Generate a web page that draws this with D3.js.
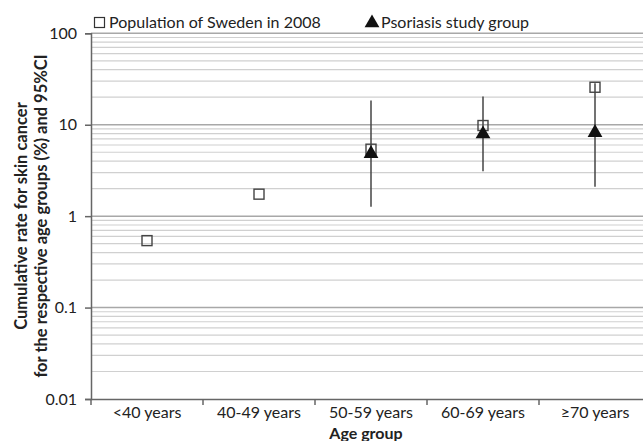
<!doctype html>
<html lang="en">
<head>
<meta charset="utf-8">
<style>
body{margin:0;background:#fff;}
text{font-family:Lato,"Open Sans",sans-serif;fill:#222;}
</style>
</head>
<body>
<div id="grafico"></div>
<script src="https://d3js.org/d3.v7.min.js"></script>
<script>

var grupos = ["<40 years","40-49 years","50-59 years","60-69 years","\u226570 years"];
var poblacion = [0.54, 1.74, 5.4, 9.8, 25.7];
var psoriasis = [null, null, 4.95, 8.1, 8.4];
var ciBajo = [null, null, 1.27, 3.1, 2.1];
var ciAlto = [null, null, 18.4, 20.3, 28.5];
var ticksY = [0.01, 0.1, 1, 10, 100];

var w = 643, h = 441;
var izq = 91, arriba = 33.3, abajo = 399;
var ancho = 112 * grupos.length;

var svg = d3.select("#grafico").append("svg").attr("width",w).attr("height",h);

var x = d3.scaleBand().domain(grupos).range([izq, izq+ancho]);
var y = d3.scaleLog().domain([0.01,100]).range([abajo, arriba]);

// lineas de grilla (menores y mayores)
var menores = [];
ticksY.slice(0,-1).forEach(function(d){
	for (var k=2;k<10;k++) menores.push(d*k);
});
svg.append("g").selectAll("line").data(menores).enter().append("line")
	.attr("x1",izq).attr("x2",w).attr("y1",function(d){return y(d)}).attr("y2",function(d){return y(d)})
	.attr("stroke","#d0d0d0").attr("stroke-width",1.2);
svg.append("g").selectAll("line").data(ticksY.slice(1)).enter().append("line")
	.attr("x1",izq).attr("x2",w).attr("y1",function(d){return y(d)}).attr("y2",function(d){return y(d)})
	.attr("stroke","#a8a8a8").attr("stroke-width",1.5);

// eje y
var ejeY = svg.append("g").attr("transform","translate("+izq+",0)")
	.call(d3.axisLeft(y).tickValues(ticksY).tickFormat(function(d){return String(d)}).tickSize(6).tickPadding(8));
ejeY.select(".domain").attr("stroke","#666").attr("stroke-width",1.5);
ejeY.selectAll(".tick line").attr("stroke","#666").attr("stroke-width",1.5);
ejeY.selectAll("text").style("font-size","16px").attr("fill","#222");

// eje x
var ejeX = svg.append("g").attr("transform","translate(0,"+abajo+")")
	.call(d3.axisBottom(x).tickSize(0).tickPadding(8));
ejeX.select(".domain").attr("stroke","#666").attr("stroke-width",1.5);
ejeX.selectAll("text").style("font-size","16px").attr("fill","#222");
svg.append("g").selectAll("line").data(grupos).enter().append("line")
	.attr("x1",function(d){return x(d)}).attr("x2",function(d){return x(d)})
	.attr("y1",abajo).attr("y2",abajo+6).attr("stroke","#666").attr("stroke-width",1.5);

// barras de error
var idx = d3.range(grupos.length).filter(function(i){return ciBajo[i]!=null});
svg.append("g").selectAll("line").data(idx).enter().append("line")
	.attr("x1",function(i){return x(grupos[i])+x.bandwidth()/2})
	.attr("x2",function(i){return x(grupos[i])+x.bandwidth()/2})
	.attr("y1",function(i){return y(ciAlto[i])}).attr("y2",function(i){return y(ciBajo[i])})
	.attr("stroke","#444").attr("stroke-width",1.5);

// cuadrados (poblacion)
svg.append("g").selectAll("rect").data(poblacion).enter().append("rect")
	.attr("x",function(d,i){return x(grupos[i])+x.bandwidth()/2-5})
	.attr("y",function(d){return y(d)-5})
	.attr("width",10).attr("height",10)
	.attr("fill","none").attr("stroke","#444").attr("stroke-width",1.4);

// triangulos (psoriasis)
var tri = d3.symbol().type(d3.symbolTriangle).size(95);
svg.append("g").selectAll("path").data(idx).enter().append("path")
	.attr("d",tri)
	.attr("transform",function(i){return "translate("+(x(grupos[i])+x.bandwidth()/2)+","+(y(psoriasis[i])+1)+")"})
	.attr("fill","#111");

// leyenda
svg.append("rect").attr("x",94.5).attr("y",17.5).attr("width",10).attr("height",10)
	.attr("fill","none").attr("stroke","#333").attr("stroke-width",1.2);
svg.append("text").attr("x",109).attr("y",28).style("font-size","16px").text("Population of Sweden in 2008");
svg.append("path").attr("d",tri).attr("transform","translate(372,23)").attr("fill","#111");
svg.append("text").attr("x",381).attr("y",28).style("font-size","16px").text("Psoriasis study group");

// titulos de ejes
var ty = svg.append("text").attr("transform","translate(27,216) rotate(-90)")
	.attr("text-anchor","middle").style("font-size","16.5px").style("font-weight","bold");
ty.append("tspan").attr("x",0).attr("dy",0).text("Cumulative rate for skin cancer");
ty.append("tspan").attr("x",0).attr("dy",20).text("for the respective age groups (%) and 95%CI");

svg.append("text").attr("x",izq+ancho/2-5).attr("y",439).attr("text-anchor","middle")
	.style("font-size","16px").style("font-weight","bold").text("Age group");

</script>
</body>
</html>
